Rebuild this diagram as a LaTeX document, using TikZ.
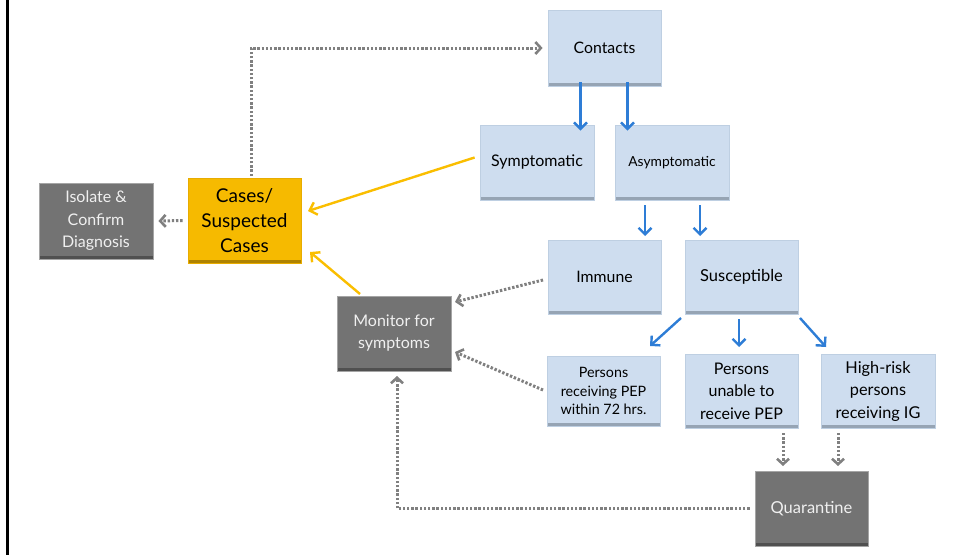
\documentclass[tikz,border=0pt]{standalone}
\usepackage{fontspec}
\setmainfont{Lato}
\usetikzlibrary{arrows.meta,calc}
\definecolor{lblue}{RGB}{206,221,239}
\definecolor{lblueedge}{RGB}{190,207,226}
\definecolor{lbluedark}{RGB}{150,164,180}
\definecolor{gold}{RGB}{246,186,0}
\definecolor{goldedge}{RGB}{232,172,0}
\definecolor{golddark}{RGB}{175,130,0}
\definecolor{dgray}{RGB}{115,115,115}
\definecolor{dgrayedge}{RGB}{165,165,165}
\definecolor{dgraydark}{RGB}{80,80,80}
\definecolor{arrblue}{RGB}{46,125,214}
\definecolor{arrgray}{RGB}{128,128,128}
\definecolor{arryel}{RGB}{250,190,0}
\tikzset{
  boxbase/.style={rectangle, inner sep=0pt, align=center, line width=0.8pt},
  bluebox/.style={boxbase, fill=lblue, draw=lblueedge, text=black,
    path picture={\draw[lbluedark, line width=2.5pt] ([yshift=1.6pt]path picture bounding box.south west) -- ([yshift=1.6pt]path picture bounding box.south east);}},
  graybox/.style={boxbase, fill=dgray, draw=dgrayedge, text=white!94!black,
    path picture={\draw[dgraydark, line width=2.5pt] ([yshift=1.6pt]path picture bounding box.south west) -- ([yshift=1.6pt]path picture bounding box.south east);}},
  goldbox/.style={boxbase, fill=gold, draw=goldedge, text=black,
    path picture={\draw[golddark, line width=2.5pt] ([yshift=1.6pt]path picture bounding box.south west) -- ([yshift=1.6pt]path picture bounding box.south east);}},
  bluearr/.style={arrblue, line width=2.4pt, -{Straight Barb[length=6.5pt,width=13pt,line width=2.4pt]}},
  yelarr/.style={arryel, line width=2.4pt, -{Straight Barb[length=6.5pt,width=13pt,line width=2.4pt]}},
  grayarr/.style={arrgray, line width=3pt, dash pattern=on 2.4pt off 1.8pt, -{Straight Barb[length=5.5pt,width=12pt,line width=2.6pt]}},
}
\begin{document}
\begin{tikzpicture}[x=1pt,y=-1pt]
\useasboundingbox (0,0) rectangle (953,555);
\fill[white] (0,0) rectangle (953,555);
\draw[black, line width=2.6pt] (7.3,0) -- (7.3,555);
% nodes
\node[bluebox, minimum width=113pt, minimum height=76pt, font=\fontsize{15.8}{18}\selectfont] (contacts) at (604.5,48) {Contacts};
\node[bluebox, minimum width=114pt, minimum height=75pt, font=\fontsize{16}{18}\selectfont] (sympt) at (537,162.5) {Symptomatic};
\node[bluebox, minimum width=114pt, minimum height=75pt, font=\fontsize{13.8}{16}\selectfont] (asympt) at (672,162.5) {Asymptomatic};
\node[bluebox, minimum width=113pt, minimum height=74pt, font=\fontsize{15.8}{18}\selectfont] (immune) at (604.5,277) {Immune};
\node[bluebox, minimum width=113pt, minimum height=74pt, font=\fontsize{16.5}{19}\selectfont] (suscept) at (741.5,277) {Susceptible};
\node[bluebox, minimum width=113pt, minimum height=70pt, font=\fontsize{14.3}{18.5}\selectfont] (pep) at (603.5,391) {Persons\\receiving PEP\\within 72 hrs.};
\node[bluebox, minimum width=113pt, minimum height=74pt, font=\fontsize{16}{22.5}\selectfont] (unable) at (741.5,391) {Persons\\unable to\\receive PEP};
\node[bluebox, minimum width=114pt, minimum height=74pt, font=\fontsize{16.3}{22.5}\selectfont] (highrisk) at (878,391) {High-risk\\persons\\receiving IG};
\node[graybox, minimum width=113pt, minimum height=75pt, font=\fontsize{16.5}{19}\selectfont] (quar) at (811.5,508.5) {Quarantine};
\node[graybox, minimum width=114pt, minimum height=75pt, font=\fontsize{16}{22}\selectfont] (monitor) at (394,333.5) {Monitor for\\symptoms};
\node[goldbox, minimum width=113pt, minimum height=85pt, font=\fontsize{19}{25}\selectfont] (cases) at (244.5,220.5) {Cases/\\Suspected\\Cases};
\node[graybox, minimum width=114pt, minimum height=76pt, font=\fontsize{16}{22.5}\selectfont] (isolate) at (96,221) {Isolate \&\\Confirm\\Diagnosis};
% blue arrows
\draw[bluearr] ([xshift=-24pt,yshift=4pt]contacts.south) -- ([xshift=-24pt,yshift=-6pt]contacts.south |- sympt.north);
\draw[bluearr] ([xshift=23pt,yshift=4pt]contacts.south) -- ([xshift=23pt,yshift=-6pt]contacts.south |- sympt.north);
\coordinate (a1s) at (645,205); \coordinate (a1e) at (645,236);
\coordinate (a2s) at (700,205); \coordinate (a2e) at (700,236);
\draw[bluearr] (a1s) -- (a1e);
\draw[bluearr] (a2s) -- (a2e);
\coordinate (s1s) at (681,318); \coordinate (s1e) at (650,346);
\coordinate (s2s) at (739,319); \coordinate (s2e) at (739,347);
\coordinate (s3s) at (800,318); \coordinate (s3e) at (826,347);
\draw[bluearr] (s1s) -- (s1e);
\draw[bluearr] (s2s) -- (s2e);
\draw[bluearr] (s3s) -- (s3e);
% yellow arrows
\draw[yelarr] ([xshift=-5pt,yshift=5pt]sympt.west) -- (308,211);
\coordinate (m1) at (360,294); \coordinate (c1) at (310,252);
\draw[yelarr] (m1) -- (c1);
% gray dotted arrows
\coordinate (ctop) at (251,176);
\draw[grayarr, shorten >=5pt] (ctop) |- (contacts.west);
\draw[grayarr] ([xshift=-5pt]cases.west) -- ([xshift=5pt]isolate.east);
\coordinate (i1) at (543,280); \coordinate (mo1) at (455,302);
\coordinate (p1) at (543,390); \coordinate (mo2) at (455,352);
\draw[grayarr] (i1) -- (mo1);
\draw[grayarr] (p1) -- (mo2);
\coordinate (u1) at (783,433); \coordinate (u2) at (783,466);
\coordinate (h1) at (838,433); \coordinate (h2) at (838,466);
\draw[grayarr] (u1) -- (u2);
\draw[grayarr] (h1) -- (h2);
\coordinate (mb) at (397,376);
\draw[grayarr] ([xshift=-5pt]quar.west) -| (mb);
\end{tikzpicture}
\end{document}
